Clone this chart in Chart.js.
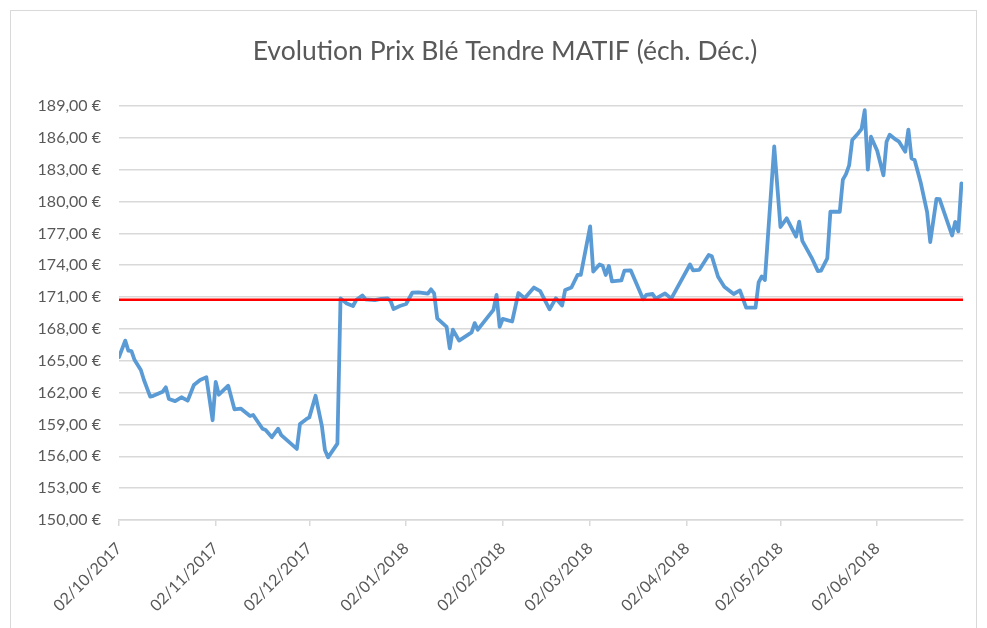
<!DOCTYPE html>
<html>
<head>
<meta charset="utf-8">
<script src="https://cdn.jsdelivr.net/npm/chart.js@4.4.1/dist/chart.umd.min.js"></script>
<style>
  html, body { margin: 0; padding: 0; background: #fff; }
  #wrap { position: relative; width: 987px; height: 628px; overflow: hidden; }
  #frame { position: absolute; left: 10px; top: 10px; width: 967px; height: 640px; border: 1px solid #d9d9d9; box-sizing: border-box; }
  canvas { position: absolute; left: 0; top: 0; }
</style>
</head>
<body>
<div id="wrap">
  <div id="frame"></div>
  <canvas id="c" width="987" height="628"></canvas>
</div>
<script>
// ---- Data ----
const dates = [
  "02/10/2017","04/10/2017","05/10/2017","06/10/2017","07/10/2017","09/10/2017","10/10/2017","12/10/2017","13/10/2017","16/10/2017",
  "17/10/2017","18/10/2017","20/10/2017","22/10/2017","24/10/2017","26/10/2017","28/10/2017","30/10/2017","01/11/2017","02/11/2017",
  "03/11/2017","06/11/2017","08/11/2017","10/11/2017","13/11/2017","14/11/2017","17/11/2017","18/11/2017","20/11/2017","22/11/2017",
  "23/11/2017","28/11/2017","29/11/2017","01/12/2017","02/12/2017","04/12/2017","06/12/2017","07/12/2017","08/12/2017","11/12/2017",
  "12/12/2017","14/12/2017","16/12/2017","17/12/2017","19/12/2017","20/12/2017","23/12/2017","25/12/2017","27/12/2017","28/12/2017",
  "29/12/2017","31/12/2017","02/01/2018","04/01/2018","06/01/2018","09/01/2018","10/01/2018","11/01/2018","12/01/2018","15/01/2018",
  "16/01/2018","17/01/2018","19/01/2018","23/01/2018","24/01/2018","25/01/2018","30/01/2018","31/01/2018","01/02/2018","02/02/2018",
  "05/02/2018","07/02/2018","09/02/2018","12/02/2018","14/02/2018","17/02/2018","19/02/2018","21/02/2018","22/02/2018","24/02/2018",
  "26/02/2018","27/02/2018","02/03/2018","03/03/2018","05/03/2018","06/03/2018","07/03/2018","08/03/2018","09/03/2018","12/03/2018",
  "13/03/2018","15/03/2018","19/03/2018","20/03/2018","22/03/2018","23/03/2018","26/03/2018","28/03/2018","03/04/2018","04/04/2018",
  "06/04/2018","09/04/2018","10/04/2018","12/04/2018","14/04/2018","17/04/2018","19/04/2018","21/04/2018","24/04/2018","25/04/2018",
  "26/04/2018","27/04/2018","30/04/2018","02/05/2018","04/05/2018","07/05/2018","08/05/2018","09/05/2018","12/05/2018","14/05/2018",
  "15/05/2018","17/05/2018","18/05/2018","21/05/2018","22/05/2018","23/05/2018","24/05/2018","25/05/2018","27/05/2018","28/05/2018",
  "29/05/2018","30/05/2018","31/05/2018","02/06/2018","04/06/2018","05/06/2018","06/06/2018","08/06/2018","09/06/2018","11/06/2018",
  "12/06/2018","13/06/2018","14/06/2018","16/06/2018","18/06/2018","19/06/2018","21/06/2018","22/06/2018","26/06/2018","27/06/2018",
  "28/06/2018","29/06/2018"
];
const prices = [
  165.35,166.90,165.95,165.90,165.07,164.13,163.19,161.62,161.70,162.09,
  162.50,161.40,161.20,161.56,161.24,162.72,163.19,163.44,159.40,163.00,
  161.80,162.65,160.43,160.50,159.80,159.89,158.60,158.48,157.80,158.60,
  158.00,156.70,159.05,159.50,159.67,161.70,158.90,156.60,155.90,157.20,
  170.88,170.40,170.16,170.72,171.15,170.79,170.72,170.82,170.88,170.66,
  169.88,170.16,170.35,171.41,171.45,171.33,171.73,171.35,169.00,168.20,
  166.17,167.93,166.90,167.67,168.55,167.93,169.80,171.20,168.20,168.95,
  168.70,171.38,170.90,171.90,171.55,169.85,170.88,170.20,171.67,171.90,
  173.10,173.10,177.65,173.40,174.07,173.95,173.08,173.93,172.48,172.58,
  173.50,173.52,170.80,171.20,171.29,170.85,171.35,170.85,174.07,173.52,
  173.57,174.96,174.84,172.92,171.98,171.29,171.63,170.00,170.00,172.38,
  172.95,172.60,185.20,177.60,178.42,176.69,178.10,176.30,174.70,173.45,
  173.50,174.65,179.04,179.04,182.06,182.58,183.40,185.80,186.46,186.85,
  188.60,183.00,186.11,184.78,182.47,185.64,186.30,185.83,185.64,184.70,
  186.78,184.07,183.91,181.72,179.00,176.18,180.25,180.23,176.80,178.08,
  177.19,181.70
];
const tickLabels = ["02/10/2017","02/11/2017","02/12/2017","02/01/2018","02/02/2018","02/03/2018","02/04/2018","02/05/2018","02/06/2018"];
const referenceLevel = 170.75;
const yMin = 150, yMax = 189, yStep = 3;
const title = "Evolution Prix Blé Tendre MATIF (éch. Déc.)";

// ---- helpers ----
const origin = Date.UTC(2017, 9, 2);
function dayOffset(s) {
  const [d, m, y] = s.split('/').map(Number);
  return Math.round((Date.UTC(y, m - 1, d) - origin) / 86400000);
}
const xMax = dayOffset(dates[dates.length - 1]) + 0.5;
const series = dates.map((d, i) => ({ x: dayOffset(d), y: prices[i] }));
const refSeries = [{ x: 0, y: referenceLevel }, { x: xMax, y: referenceLevel }];

const FONT = "Lato, 'Open Sans', sans-serif";
const GREY = '#595959';

// Title drawn centred over the whole frame (as in the reference)
const titlePlugin = {
  id: 'frameTitle',
  afterDraw(chart) {
    const ctx = chart.ctx;
    ctx.save();
    ctx.font = "26.5px " + FONT;
    ctx.fillStyle = GREY;
    ctx.textAlign = 'center';
    ctx.textBaseline = 'middle';
    ctx.fillText(title, 505, 51);
    ctx.restore();
  }
};

new Chart(document.getElementById('c'), {
  type: 'line',
  data: {
    datasets: [
      { data: refSeries, borderColor: '#ff0000', borderWidth: 2.6, pointRadius: 0, tension: 0, order: 0 },
      { data: series, borderColor: '#5b9bd5', borderWidth: 3.8, pointRadius: 0, tension: 0, order: 1,
        borderJoinStyle: 'round', borderCapStyle: 'round' }
    ]
  },
  plugins: [titlePlugin],
  options: {
    responsive: false,
    animation: false,
    events: [],
    layout: { padding: { left: 0, right: 24, top: 106, bottom: 0 } },
    plugins: {
      legend: { display: false },
      tooltip: { enabled: false },
      title: { display: false }
    },
    scales: {
      x: {
        type: 'linear', min: 0, max: xMax,
        afterBuildTicks: s => { s.ticks = tickLabels.map(l => ({ value: dayOffset(l) })); },
        afterFit: s => { s.height = 108; },
        ticks: {
          autoSkip: false, minRotation: 45, maxRotation: 45, color: GREY,
          font: { family: FONT, size: 16 }, padding: 13,
          callback: (v, i) => tickLabels[i]
        },
        grid: { drawOnChartArea: false, drawTicks: true, tickLength: 6, color: '#d9d9d9', lineWidth: 1.5 },
        border: { display: true, color: '#d9d9d9', width: 1.5 }
      },
      y: {
        min: yMin, max: yMax,
        afterFit: s => { s.width = 119; },
        ticks: {
          stepSize: yStep, color: GREY, padding: 18,
          font: { family: FONT, size: 16 },
          callback: v => v.toFixed(2).replace('.', ',') + ' €'
        },
        grid: { color: '#d9d9d9', lineWidth: 1.5, drawTicks: false },
        border: { display: false }
      }
    }
  }
});
</script>
</body>
</html>
